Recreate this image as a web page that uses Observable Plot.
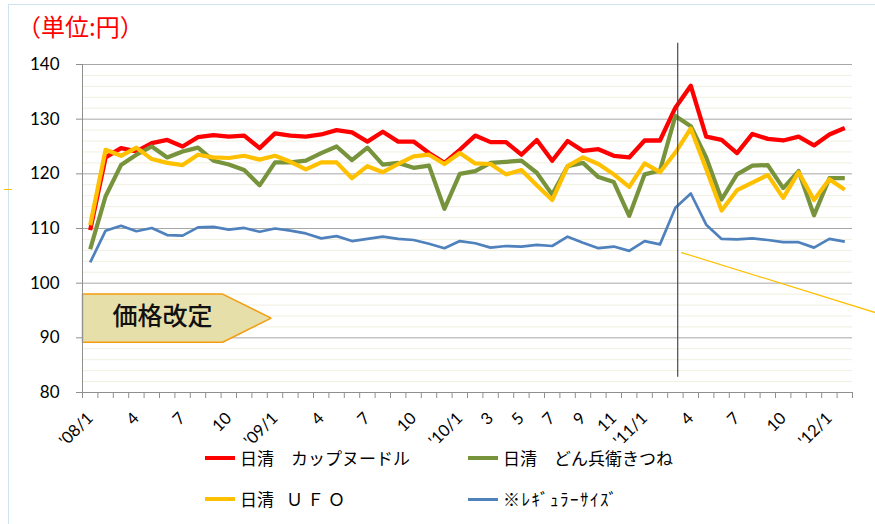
<!DOCTYPE html>
<html><head><meta charset="utf-8">
<script src="https://cdn.jsdelivr.net/npm/d3@7"></script>
<script src="https://cdn.jsdelivr.net/npm/@observablehq/plot@0.6"></script>
<style>
body{margin:0;background:#fff;font-family:"Noto Sans CJK JP",sans-serif;}
#wrap{position:relative;width:875px;height:524px;overflow:hidden;background:#fff;}
#frame{position:absolute;left:8px;top:4px;width:900px;height:600px;border-left:1px solid #cfe3f0;border-top:1px solid #cfe3f0;}
#title{position:absolute;left:17px;top:11px;color:#ff0000;font-size:24px;line-height:30px;white-space:nowrap;}
#chart{position:absolute;left:0;top:0;}
#tick{position:absolute;left:4px;top:189px;width:8px;height:0;border-top:1px solid #ffc000;}
.leg{position:absolute;display:flex;align-items:center;font-size:17px;line-height:20px;height:20px;white-space:nowrap;color:#000;}
.sw{display:inline-block;width:30px;margin-right:5px;}
</style>
</head><body>
<div id="wrap">
<div id="frame"></div>
<div id="tick"></div>
<div id="chart"></div>
<div id="title">（単位:円）</div>
<div id="legend"></div>
</div>
<script>
// categories: '08/1 .. '12/2 (50 months)
const months = [];
for (let yr = 8; yr <= 12; yr++) for (let m = 1; m <= 12; m++) if (months.length < 50) months.push("'" + String(yr).padStart(2, "0") + "/" + m);

const cupNoodle = [109.7,123.0,124.7,124.1,125.6,126.2,125.0,126.7,127.1,126.8,127.0,124.7,127.4,127.0,126.8,127.2,128.0,127.6,125.9,127.7,125.9,125.9,123.8,122.0,124.4,127.0,125.8,125.8,123.5,126.2,122.4,126.0,124.2,124.5,123.3,123.0,126.1,126.1,132.1,136.1,126.8,126.2,123.8,127.3,126.4,126.1,126.8,125.2,127.2,128.4];
const donbei = [106.2,115.9,121.6,123.5,125.0,123.0,124.1,124.8,122.4,121.7,120.7,117.9,122.1,122.1,122.4,123.8,125.0,122.5,124.8,121.7,122.0,121.1,121.5,113.6,120.0,120.5,122.0,122.2,122.4,120.2,116.2,121.4,122.0,119.4,118.5,112.3,119.9,120.6,130.6,128.7,123.0,115.3,119.9,121.5,121.6,117.4,120.5,112.4,119.2,119.2];
const ufo = [110.6,124.4,123.3,124.8,122.7,122.0,121.6,123.5,123.0,122.9,123.3,122.6,123.3,122.2,120.8,122.1,122.1,119.2,121.4,120.3,121.8,123.2,123.5,121.8,123.8,121.9,121.8,119.9,120.7,117.9,115.2,121.4,123.0,121.8,119.9,117.6,121.9,120.3,123.9,128.3,120.9,113.3,117.0,118.4,119.8,115.6,120.3,115.2,119.0,117.1];
const regular = [103.8,109.6,110.5,109.5,110.1,108.8,108.7,110.2,110.3,109.8,110.1,109.4,110.0,109.6,109.1,108.2,108.6,107.7,108.1,108.5,108.1,107.9,107.2,106.4,107.7,107.3,106.5,106.8,106.7,107.0,106.8,108.5,107.4,106.4,106.7,105.9,107.7,107.1,113.8,116.4,110.7,108.1,108.0,108.2,107.9,107.5,107.5,106.5,108.1,107.6];

const seriesNames = ["日清　カップヌードル","日清　どん兵衛きつね","日清　ＵＦＯ","※ﾚｷﾞｭﾗｰｻｲｽﾞ"];
const seriesColors = ["#ff0000","#77933c","#ffc000","#4f81bd"];
const seriesWidths = [4.3,4.2,4.2,2.7];
const seriesValues = [cupNoodle, donbei, ufo, regular];

const xTickIdx = [0,3,6,9,12,15,18,21,24,26,28,30,32,34,36,39,42,45,48];
const xTickLab = ["'08/1","4","7","10","'09/1","4","7","10","'10/1","3","5","7","9","11","'11/1","4","7","10","'12/1"];
const yTicks = [80,90,100,110,120,130,140];

// annotations (data units)
const markX = [38.15], markY1 = [82.8], markY2 = [143.9];
const slopeX = [38.4, 51.0], slopeY = [105.6, 94.6];
const arrowX = [-0.5, 8.6, 11.75, 8.6, -0.5, -0.5];
const arrowY = [98.0, 98.0, 93.6, 89.2, 89.2, 98.0];
const arrowLabel = ["価格改定"], arrowLabelX = [4.7], arrowLabelY = [93.8];

const minorY = d3.range(82, 140, 2).filter(v => v % 10 !== 0);
const bounds = d3.range(0, 51).map(k => k - 0.5);

const lineMarks = seriesValues.map((vals, s) =>
  Plot.line(vals.map((v, i) => ({i, v, m: months[i]})), {x: "i", y: "v", stroke: seriesColors[s], strokeWidth: seriesWidths[s], strokeLinejoin: "round", strokeLinecap: "butt"})
);

const chart = Plot.plot({
  width: 875, height: 450,
  marginLeft: 82, marginRight: 23, marginTop: 64, marginBottom: 58,
  x: {type: "linear", domain: [-0.5, 49.5]},
  y: {domain: [80, 140]},
  style: {fontFamily: "Lato, 'Noto Sans CJK JP', sans-serif", fontSize: "16px", color: "#000", background: "transparent", overflow: "visible"},
  marks: [
    Plot.ruleY(minorY, {stroke: "#f0efdf", strokeWidth: 1}),
    Plot.ruleY(yTicks, {stroke: "#a8a8a8", strokeWidth: 1}),
    Plot.line(arrowX.map((x, k) => ({x, y: arrowY[k]})), {x: "x", y: "y", fill: "#e6dfa9", stroke: "#f59d0f", strokeWidth: 1.5, strokeLinejoin: "miter"}),
    Plot.text(arrowLabel, {x: arrowLabelX, y: arrowLabelY, text: d => d, fontSize: 25, fontWeight: 500, fontFamily: "'Noto Sans CJK JP', sans-serif", fill: "#111"}),
    ...lineMarks,
    Plot.ruleX(markX, {x: d => d, y1: markY1[0], y2: markY2[0], stroke: "#4a4a4a", strokeWidth: 1.2}),
    Plot.line(slopeX.map((x, k) => ({x, y: slopeY[k]})), {x: "x", y: "y", stroke: "#ffc000", strokeWidth: 1.2}),
    Plot.ruleX([-0.5], {stroke: "#8f8f8f"}),
    Plot.ruleY([80], {stroke: "#8f8f8f"}),
    Plot.axisY({ticks: yTicks, tickSize: 6, tickPadding: 17, stroke: "#8f8f8f", label: null, fontSize: 17}),
    Plot.axisX({ticks: bounds, tickSize: 6, tickFormat: () => "", stroke: "#8f8f8f", label: null}),
    Plot.axisX({ticks: xTickIdx, tickSize: 0, tickPadding: 23, tickRotate: -45, tickFormat: d => xTickLab[xTickIdx.indexOf(d)], label: null, fontSize: 16.5})
  ]
});
document.getElementById("chart").appendChild(chart);

// legend
const legPos = [[205, 448], [468, 448], [205, 489], [468, 489]];
const legend = document.getElementById("legend");
seriesNames.forEach((name, s) => {
  const d = document.createElement("div");
  d.className = "leg";
  d.style.left = legPos[s][0] + "px";
  d.style.top = legPos[s][1] + "px";
  const sw = document.createElement("span");
  sw.className = "sw";
  sw.style.borderTop = (s === 3 ? 3 : 4) + "px solid " + seriesColors[s];
  d.appendChild(sw);
  if (s === 2) {
    const a = document.createElement("span");
    a.textContent = name.slice(0, 3);
    const b = document.createElement("span");
    b.textContent = name.slice(3);
    b.style.letterSpacing = "4px";
    b.style.marginLeft = "-5px";
    d.appendChild(a); d.appendChild(b);
  } else {
    const t = document.createElement("span");
    t.textContent = name;
    if (s === 3) t.style.letterSpacing = "1.5px";
    d.appendChild(t);
  }
  legend.appendChild(d);
});
</script>
</body></html>
